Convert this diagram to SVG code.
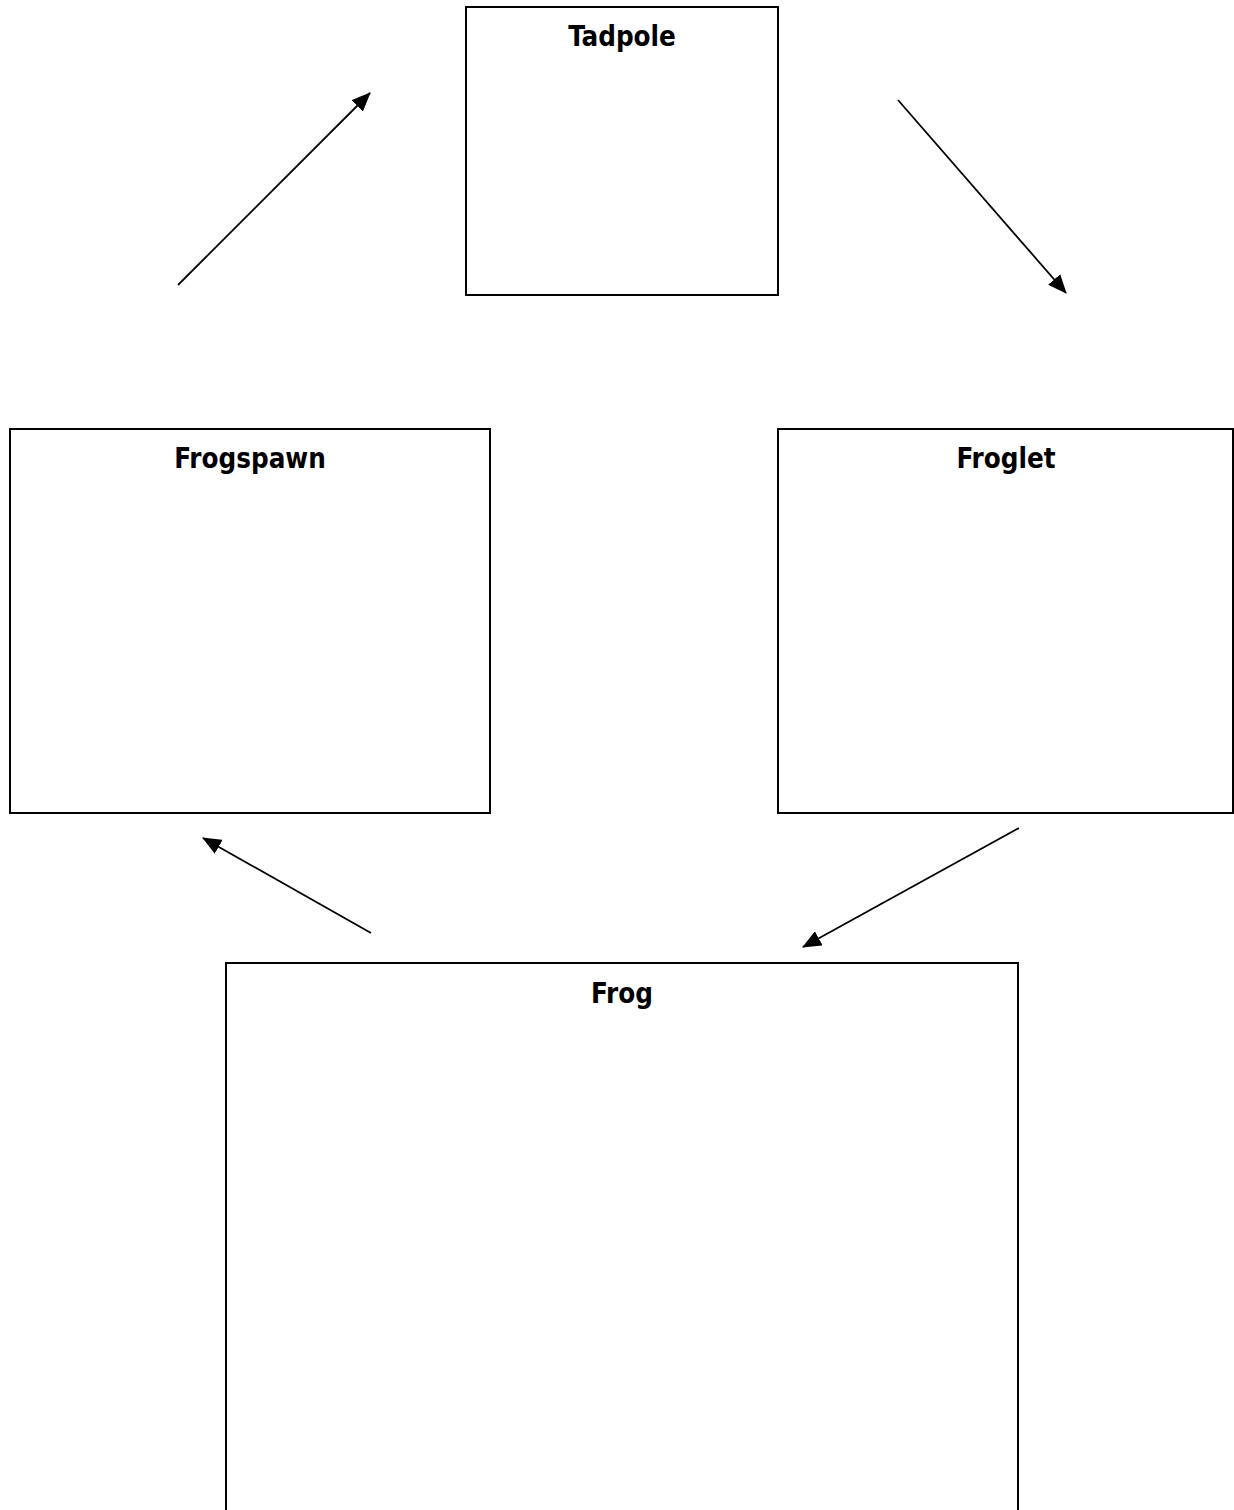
<svg xmlns="http://www.w3.org/2000/svg" width="1234" height="1510" viewBox="0 0 1234 1510">
<style>
.box{fill:#fff;stroke:#000;stroke-width:2}
.lbl{font-family:"DejaVu Sans Condensed","DejaVu Sans",sans-serif;font-weight:bold;font-size:27.5px;text-anchor:middle;fill:#000}
.conn{stroke:#000;stroke-width:1.8;fill:none;marker-end:url(#ah)}
</style>
<defs>
<marker id="ah" markerUnits="userSpaceOnUse" markerWidth="20" markerHeight="16" refX="18" refY="8" orient="auto">
<path d="M0,0 L19,8 L0,16 Z" fill="#000"/>
</marker>
</defs>
<rect width="1234" height="1510" fill="#fff"/>
<g id="tadpole"><rect class="box" x="466" y="7" width="312" height="288"/><text class="lbl" x="622" y="46">Tadpole</text></g>
<g id="frogspawn"><rect class="box" x="10" y="429" width="480" height="384"/><text class="lbl" x="250" y="468">Frogspawn</text></g>
<g id="froglet"><rect class="box" x="778" y="429" width="455" height="384"/><text class="lbl" x="1006" y="468">Froglet</text></g>
<g id="frog"><rect class="box" x="226" y="963" width="792" height="560"/><text class="lbl" x="622" y="1003">Frog</text></g>
<g id="connectors">
<line class="conn" x1="178" y1="285" x2="370" y2="93"/>
<line class="conn" x1="898" y1="100" x2="1066" y2="293"/>
<line class="conn" x1="371" y1="933" x2="203" y2="838"/>
<line class="conn" x1="1019" y1="828" x2="803" y2="947"/>
</g>
</svg>
